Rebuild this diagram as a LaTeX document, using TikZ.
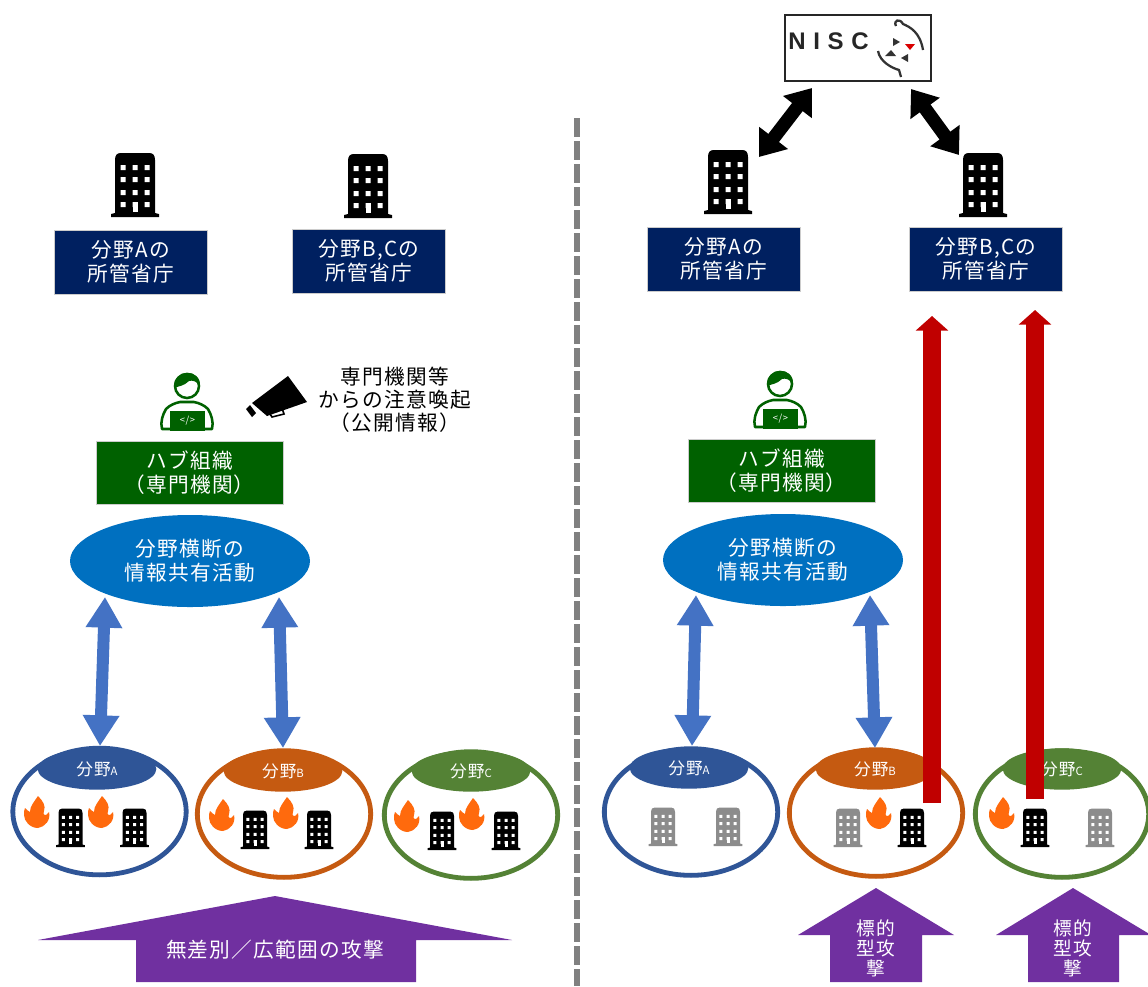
\documentclass[tikz,border=0pt]{standalone}
\usepackage{fontspec}
\setmainfont[LetterSpace=6]{Noto Sans CJK JP}
\newfontfamily\niscfont[LetterSpace=32]{Liberation Sans}
\usetikzlibrary{shapes.geometric,arrows.meta}
\definecolor{navybox}{HTML}{002060}
\definecolor{greenbox}{HTML}{006100}
\definecolor{hubblue}{HTML}{0070C0}
\definecolor{arrowblue}{HTML}{4472C4}
\definecolor{secA}{HTML}{2F5597}
\definecolor{secB}{HTML}{C55A11}
\definecolor{secC}{HTML}{548235}
\definecolor{purpleatk}{HTML}{7030A0}
\definecolor{redarrow}{HTML}{C00000}
\definecolor{flameor}{HTML}{FF6A0D}
\definecolor{bldggray}{HTML}{8C8C8C}
\tikzset{
  navynode/.style={rectangle,fill=navybox,draw=black!20,line width=.3pt,text=white,minimum width=115pt,minimum height=48pt,inner sep=0pt,align=center,font=\fontsize{15.5}{18.2}\selectfont},
  hubnode/.style={rectangle,fill=greenbox,draw=black!20,line width=.3pt,text=white,minimum width=140pt,minimum height=47.5pt,inner sep=0pt,align=center,font=\fontsize{15.5}{18}\selectfont},
  sharenode/.style={ellipse,fill=hubblue,text=white,minimum width=180pt,minimum height=69pt,inner sep=0pt,align=center,font=\fontsize{15.5}{18}\selectfont},
  sector/.style={ellipse,draw=#1,line width=3.6pt,minimum width=130pt,minimum height=95pt,inner sep=0pt},
  sechead/.style={ellipse,fill=#1,text=white,minimum width=89pt,minimum height=31pt,inner sep=0pt,font=\fontsize{12.5}{14}\selectfont},
  blockblue/.style={draw=arrowblue,line width=9pt,{Triangle[length=23pt,width=26pt]}-{Triangle[length=23pt,width=26pt]}},
  blockblack/.style={draw=black,line width=10pt,{Triangle[length=18pt,width=26pt]}-{Triangle[length=18pt,width=26pt]}},
  blockred/.style={draw=redarrow,line width=13pt,-{Triangle[length=11pt,width=24pt]}},
  atkshape/.style={fill=purpleatk},
  atktext/.style={text=white,inner sep=0pt,align=center,font=\fontsize{15.5}{15}\selectfont},
  targettext/.style={text=white,inner sep=0pt,align=center,font=\fontsize{14}{15}\selectfont},
  plaintext/.style={text=black,inner sep=0pt,align=center,font=\fontsize{15.5}{17.2}\selectfont},
  flametip/.style={fill=flameor},
}
\newcommand{\bldg}[4]{%
\begin{scope}[shift={(#1,#2)},scale=#3]
\fill[#4] (-24,0) -- (-24,-3) -- (-20,-4) -- (-20,-57) .. controls (-20,-62) and (-18,-64) .. (-14,-64) -- (14,-64) .. controls (18,-64) and (20,-62) .. (20,-57) -- (20,-4) -- (24,-3) -- (24,0) -- cycle;
\fill[white] \foreach \yy in {-52,-40,-27,-15}{\foreach \xx in {-14.5,-2.5,9.5}{(\xx,\yy) rectangle ++(5,5)}};
\fill[white] (-2.5,-15) rectangle ++(5,10);
\end{scope}}
\newcommand{\flame}[2]{%
\begin{scope}[shift={(#1,#2)}]
\fill[flametip] (1,-16) .. controls (6,-11) and (9,-6) .. (7,-1) .. controls (6,2) and (7,4) .. (9,3) -- (12,0) .. controls (14,8) and (8,15) .. (1,16) .. controls (-7,16) and (-13,9) .. (-13,3) .. controls (-13,0) and (-13,-2) .. (-12,-4) .. controls (-10,-2) and (-9,-1) .. (-7,0) .. controls (-7,-6) and (-3,-10) .. (1,-16) -- cycle;
\end{scope}}
\newcommand{\person}[3]{%
\begin{scope}[shift={(#1,#2)}]
\draw[greenbox,line width=1.9pt,fill=white] (0,14) circle (12);
\fill[greenbox] (-13,16) .. controls (-14,-4) and (14,-4) .. (13,14) .. controls (9,9) and (6,8) .. (2,9) .. controls (-3,14) and (-8,14) .. (-13,16) -- cycle;
\draw[greenbox,line width=1.9pt,line join=round] (-25,57) .. controls (-27,50) and (-24,42) .. (-21,37) .. controls (-17,33) and (-12,31) .. (-7,30) -- (7,30) .. controls (12,31) and (17,33) .. (21,37) .. controls (24,42) and (27,50) .. (25,57) -- cycle;
\node[rectangle,fill=greenbox,text=white,minimum width=26pt,minimum height=14.5pt,inner sep=0pt,font=\fontsize{7}{8}\selectfont] (#3) at (0.5,49) {</>};
\end{scope}}
\begin{document}
\begin{tikzpicture}[x=.75pt,y=-.75pt]
\useasboundingbox (0,0) rectangle (1148,986);
\fill[white] (0,0) rectangle (1148,986);
% divider
\coordinate (divT) at (577,118);
\coordinate (divB) at (577,986);
\draw[black!50,line width=4.8pt,dash pattern=on 14.5pt off 2.75pt] (divT) -- (divB);
% NISC
\node[rectangle,draw=black!85,line width=1.4pt,fill=white,minimum width=109pt,minimum height=49.5pt,inner sep=0pt] (nisc) at (858,48) {};
\node[inner sep=0pt,anchor=west,text=black!85,font={\niscfont\bfseries\fontsize{18}{19}\selectfont}] (nisctext) at (788,41) {NISC};
\draw[black!80,line width=1.7pt] (896,26) .. controls (893,20) and (900,18) .. (903,24) .. controls (910,27) and (920,32) .. (923,50);
\draw[black!80,line width=1.7pt] (878,51) .. controls (880,62) and (892,68) .. (899,70) -- (901,77);
\fill[black!80] (893,38) -- (900,42) -- (893,46) -- cycle;
\fill[black!80] (891,50) -- (896,56) -- (885,56) -- cycle;
\fill[black!80] (908,54) -- (908,62) -- (901,58) -- cycle;
\fill[red!85!black] (905,44) -- (915,44) -- (910,50) -- cycle;
% big buildings
\bldg{135}{217}{1}{black}
\bldg{368}{218}{1}{black}
\bldg{728}{214}{1}{black}
\bldg{983}{217}{1}{black}
% NISC arrows
\coordinate (nL) at (812,88);
\coordinate (bL) at (759,157);
\coordinate (nR) at (911,89);
\coordinate (bR) at (959,155);
\draw[blockblack] (nL) -- (bL);
\draw[blockblack] (nR) -- (bR);
% navy boxes
\node[navynode] (lA) at (131,262) {分野Aの\\所管省庁};
\node[navynode] (lBC) at (369,261) {分野B,Cの\\所管省庁};
\node[navynode] (rA) at (724,259) {分野Aの\\所管省庁};
\node[navynode] (rBC) at (986,259) {分野B,Cの\\所管省庁};
% persons
\person{187}{372}{codeL}
\person{780}{370}{codeR}
% megaphone
\fill[black] (252,403) -- (288,376) -- (307,402) -- (267,416) -- cycle;
\fill[black] (246,409) -- (250,405) -- (256,413) -- (252,417) -- cycle;
\draw[black,line width=1.2pt] (270,414) -- (272,417) -- (284,414) -- (282,408);
\node[plaintext] (alert) at (395,400) {専門機関等\\からの注意喚起\\（公開情報）};
% hub boxes
\node[hubnode] (hubL) at (189.5,472.5) {ハブ組織\\（専門機関）};
\node[hubnode] (hubR) at (781.5,470.5) {ハブ組織\\（専門機関）};
% share ellipses
\node[sharenode] (shareL) at (190,561) {分野横断の\\情報共有活動};
\node[sharenode] (shareR) at (783,560) {分野横断の\\情報共有活動};
% sectors
\node[sector=secA] (sA) at (99.5,811.5) {};
\node[sector=secB] (sB) at (284,814) {};
\node[sector=secC] (sC) at (471,815) {};
\node[sector=secA] (rsA) at (691,812) {};
\node[sector=secB] (rsB) at (876,813) {};
\node[sector=secC] (rsC) at (1062,814) {};
\newcommand{\secl}[1]{分野{\fontsize{8.5}{10}\selectfont #1}}
\node[sechead=secA] (hA) at (97,769) {\secl{A}};
\node[sechead=secB] (hB) at (283,771) {\secl{B}};
\node[sechead=secC] (hC) at (471,771) {\secl{C}};
\node[sechead=secA] (rhA) at (689,768) {\secl{A}};
\node[sechead=secB] (rhB) at (875,769) {\secl{B}};
\node[sechead=secC] (rhC) at (1062,769) {\secl{C}};
% blue arrows
\coordinate (ba1) at (105,597); \coordinate (ba2) at (100,746);
\coordinate (bb1) at (279,597); \coordinate (bb2) at (283,748);
\coordinate (bc1) at (696,595); \coordinate (bc2) at (692,746);
\coordinate (bd1) at (870,595); \coordinate (bd2) at (875,748);
\draw[blockblue] (ba1) -- (ba2);
\draw[blockblue] (bb1) -- (bb2);
\draw[blockblue] (bc1) -- (bc2);
\draw[blockblue] (bd1) -- (bd2);
% sector contents
\flame{37}{812}\bldg{70.5}{847}{.6}{black}\flame{101}{812}\bldg{134.5}{847}{.6}{black}
\flame{222}{815}\bldg{255}{849}{.6}{black}\flame{286}{813}\bldg{319}{849}{.6}{black}
\flame{407}{816}\bldg{442}{850}{.6}{black}\flame{472}{814}\bldg{506}{850}{.6}{black}
\bldg{663}{846}{.6}{bldggray}\bldg{728}{846}{.6}{bldggray}
\bldg{848}{847}{.6}{bldggray}\flame{879}{813}\bldg{912}{847}{.6}{black}
\flame{1002}{813}\bldg{1035}{847}{.6}{black}\bldg{1100}{847}{.6}{bldggray}
% red arrows
\coordinate (ra1) at (932,803); \coordinate (ra2) at (932,316);
\coordinate (rb1) at (1035,799); \coordinate (rb2) at (1035,310);
\draw[blockred] (ra1) -- (ra2);
\draw[blockred] (rb1) -- (rb2);
% purple attack arrows
\fill[atkshape] (275,896) -- (512,940) -- (416,940) -- (416,982) -- (136,982) -- (136,940) -- (38,940) -- cycle;
\node[atktext] (atkL) at (275,950) {無差別／広範囲の攻撃};
\fill[atkshape] (876,888) -- (954,935) -- (922,935) -- (922,982) -- (830,982) -- (830,935) -- (798,935) -- cycle;
\node[targettext] (atkB) at (876,948) {標的\\型攻\\撃};
\fill[atkshape] (1073,888) -- (1151,935) -- (1119,935) -- (1119,982) -- (1028,982) -- (1028,935) -- (996,935) -- cycle;
\node[targettext] (atkC) at (1073,948) {標的\\型攻\\撃};
\end{tikzpicture}
\end{document}
